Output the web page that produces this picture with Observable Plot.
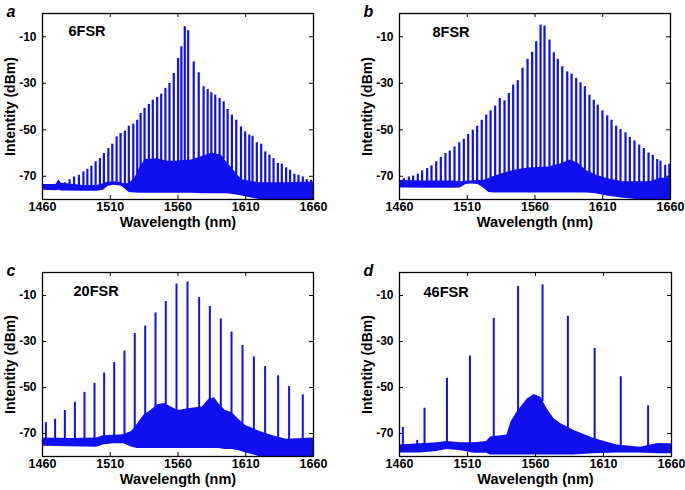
<!DOCTYPE html>
<html><head><meta charset="utf-8">
<script src="https://cdn.jsdelivr.net/npm/d3@7"></script>
<script src="https://cdn.jsdelivr.net/npm/@observablehq/plot@0.6"></script>
<style>
body{margin:0;background:#fff;}
#wrap{position:relative;width:685px;height:490px;overflow:hidden;background:#fff;}
.panel{position:absolute;}
</style></head><body><div id="wrap"></div>
<script>
const xTicks = [1460, 1510, 1560, 1610, 1660];
const yTicks = [-10, -30, -50, -70];
const xLabel = "Wavelength (nm)";
const yLabel = "Intentity (dBm)";

// ---- panel a (6FSR)
const aLineW = [1476.6,1480.0,1483.3,1486.9,1490.2,1493.1,1496.1,1499.2,1502.4,1505.3,1508.6,1511.5,1514.7,1517.6,1520.8,1523.7,1527.0,1529.9,1532.4,1535.3,1538.5,1541.4,1544.6,1547.6,1550.7,1553.7,1556.9,1560.1,1562.5,1565.0,1567.5,1571.6,1575.3,1578.9,1581.9,1584.6,1587.5,1590.7,1593.7,1596.6,1599.8,1603.0,1606.5,1609.6,1612.6,1615.0,1618.2,1621.4,1624.4,1627.5,1630.5,1633.7,1636.6,1639.8,1642.7,1645.9,1648.9,1652.1,1655.0,1658.2];
const aLineP = [-72.8,-71.5,-70.3,-69.6,-68.1,-67,-65.7,-63.8,-62.4,-60.2,-58.1,-56.2,-53.1,-51.6,-50.6,-48.5,-47.6,-45.9,-43,-40.8,-39.1,-37.3,-36.1,-34.7,-32.2,-30.1,-25.8,-19.3,-14.3,-5.7,-7.4,-20.8,-25.5,-31.5,-32.7,-34.1,-35.1,-36.5,-38,-41.3,-43.7,-45.9,-48.8,-50.9,-52.3,-52.8,-55.6,-56.2,-59.5,-60.9,-62.4,-64.5,-64.8,-66.4,-67.4,-69.1,-69.6,-70.3,-71.4,-71.7];
const aFloorW  = [1460,1470,1472,1474,1490,1500,1505,1508,1512,1518,1521,1524,1528,1532,1536,1545,1552,1558,1570,1578,1585,1592,1596,1602,1607,1620,1640,1660];
const aFloorHi = [-73.5,-73.5,-71.5,-73,-74,-74,-73.2,-72.6,-72.4,-72.7,-73.4,-73,-71,-66,-62.8,-62.5,-63.5,-63.5,-63,-61.5,-60,-61,-64,-68,-71.5,-72.8,-72.8,-72.5];
const aFloorLo = [-76,-76.2,-76,-76.3,-76.5,-76.5,-76,-74.5,-73.9,-74.2,-75.5,-77,-77.2,-77.3,-77.3,-77.3,-77.3,-77.3,-77.3,-77.5,-77.5,-77.5,-77.5,-78,-78.5,-80,-80,-80];

// ---- panel b (8FSR)
const bLineW = [1463.2,1466.9,1470.1,1473.5,1476.7,1480.4,1483.6,1487.1,1490.5,1493.9,1497.1,1500.6,1504.1,1507.5,1510.7,1514.1,1517.3,1520.7,1524.0,1527.2,1530.6,1534.0,1537.5,1540.7,1543.9,1547.3,1550.8,1554.5,1557.9,1560.9,1564.1,1567.0,1570.7,1573.9,1576.8,1580.1,1583.8,1587.0,1590.4,1593.6,1596.8,1600.2,1603.4,1606.3,1609.8,1613.3,1616.5,1619.9,1623.1,1626.8,1630.0,1633.4,1636.9,1640.3,1643.8,1646.9,1650.2,1652.6,1656.1,1659.1];
const bLineP = [-71.0,-70.3,-69.9,-69.1,-67.7,-66.7,-65.5,-63.8,-61.9,-60.2,-59.2,-57.4,-55.6,-54.1,-52,-50.2,-48.5,-45.9,-43.7,-41.9,-39.8,-36.5,-37.6,-34.4,-30.8,-28.9,-23.5,-19.7,-16.7,-12.1,-5.0,-5.4,-11.4,-16.9,-19.7,-22.9,-25.1,-26.1,-27.9,-29.8,-31.5,-35.1,-37.3,-39.4,-41.9,-44,-45.9,-48.5,-49.9,-51.3,-53.3,-54.8,-56.6,-58.1,-60,-61,-62.8,-63.5,-65.3,-64.8];
const bFloorW  = [1460,1480,1500,1505,1509,1513,1518,1522,1526,1530,1544,1555,1570,1580,1586,1592,1598,1605,1613,1625,1635,1645,1652,1660];
const bFloorHi = [-71.8,-72,-72,-72.5,-72.2,-72,-71.8,-71.8,-71,-70,-67.5,-66.5,-66,-64.5,-63,-64.5,-67.5,-69.5,-71,-72.4,-72.4,-72.4,-71,-70.5];
const bFloorLo = [-75,-75.2,-75.2,-75,-73.6,-73.3,-73.5,-75,-77,-77.2,-77.2,-77.2,-77.2,-77.2,-77.2,-77.2,-77.2,-77.5,-78.5,-79.5,-80,-80,-80,-80];

// ---- panel c (20FSR)
const cLineW = [1462.5,1469.3,1476.5,1483.9,1491.0,1498.4,1505.5,1512.9,1520.5,1528.1,1535.8,1543.4,1551.0,1558.9,1567.0,1575.6,1583.5,1591.6,1599.5,1607.6,1616.0,1624.3,1633.9,1642.0,1652.1];
const cLineP = [-65.3,-63.8,-60,-56.4,-52.1,-48.2,-43.7,-39.1,-34.1,-26.5,-23.3,-17.6,-12.6,-5.0,-4.1,-10.9,-14.7,-20.2,-25.9,-31.7,-36.7,-40.9,-44.9,-49.5,-53.2];
const cFloorW  = [1460,1480,1500,1505,1512,1520,1526,1530,1535,1540,1545,1550,1555,1560,1570,1578,1583,1587,1590,1595,1600,1605,1610,1620,1630,1640,1660];
const cFloorHi = [-72,-72.2,-72,-71,-70.8,-70.5,-69,-66,-62,-60,-57.5,-57,-58.5,-60,-59,-58.5,-55,-54.5,-57,-60,-61,-64,-66.5,-69,-71,-72.5,-72];
const cFloorLo = [-75.5,-75.8,-76,-75,-74.5,-74.5,-76,-76.5,-76.5,-76.5,-76.5,-76.5,-76.5,-76.5,-76.5,-76.5,-76.5,-76.5,-76.5,-77,-77,-77.5,-78.5,-80,-80,-80,-80];

// ---- panel d (46FSR)
const dLineW = [1462.5,1473.0,1478.4,1494.9,1511.8,1529.3,1547.2,1565.2,1583.8,1603.5,1622.7,1642.8];
const dLineP = [-67.4,-73,-59,-46,-36.3,-20,-6.1,-5.4,-19,-33,-45.3,-58];
const dFloorW  = [1460,1475,1487.5,1495,1505,1515,1524,1527,1539,1542,1546.5,1550,1554,1559,1564,1568.5,1573.5,1578.5,1588,1603,1620,1637,1650,1660];
const dFloorHi = [-75,-74.5,-74,-73.5,-74,-74,-73.5,-71.5,-70.7,-65,-60.7,-58,-55,-53,-54.2,-59.2,-63.5,-65.7,-68.6,-72.2,-75,-76,-74.3,-74.5];
const dFloorLo = [-78.5,-78.5,-77.8,-77,-77.5,-78.6,-78.6,-79.3,-79.3,-79.3,-79.3,-79.3,-79.3,-79.3,-79.3,-79.3,-79.3,-79.3,-79.3,-78.8,-78.5,-78.5,-78.8,-78.8];

const BLUE = "#1010ee";
const FONT = "'Liberation Sans', Arial, Helvetica, sans-serif";

function panel(o) {
  const lines = o.lineW.map((w, i) => ({w, p: o.lineP[i]}));
  const floor = o.floorW.map((w, i) => ({w, hi: o.floorHi[i], lo: o.floorLo[i]}));
  const top = d3.scaleLinear(o.floorW, o.floorHi);
  lines.forEach(d => { d.base = top(d.w) - 0.5; });
  const iw = o.W - o.mL - o.mR, ih = o.H - o.mT - o.mB;
  return Plot.plot({
    width: o.W, height: o.H,
    marginLeft: o.mL, marginRight: o.mR, marginTop: o.mT, marginBottom: o.mB,
    x: {domain: [1460, 1660]},
    y: {domain: [-80, 0]},
    style: {fontFamily: FONT, fontWeight: "bold", fontSize: "12px", color: "black", background: "transparent", overflow: "visible"},
    marks: [
      Plot.areaY(floor, {x: "w", y1: "lo", y2: "hi", fill: BLUE}),
      Plot.ruleX(lines, {x: "w", y1: "base", y2: "p", stroke: BLUE, strokeWidth: o.lw}),
      Plot.frame({stroke: "black", strokeWidth: 1.3}),
      Plot.tickX(xTicks, {x: d => d, insetTop: ih - 4, stroke: "black"}),
      Plot.tickX(xTicks, {x: d => d, insetBottom: ih - 4, stroke: "black"}),
      Plot.tickY(yTicks, {y: d => d, insetRight: iw - 4, stroke: "black"}),
      Plot.tickY(yTicks, {y: d => d, insetLeft: iw - 4, stroke: "black"}),
      Plot.axisX(xTicks, {tickSize: 0, tickPadding: 3, tickFormat: d => String(d), label: null, fontSize: 12.5}),
      Plot.axisY(yTicks, {tickSize: 0, tickPadding: 6, tickFormat: d => String(d), label: null, fontSize: 12}),
      Plot.text([xLabel], {frameAnchor: "bottom", dy: 23, text: d => d, fontSize: 14.5, textAnchor: "middle", lineAnchor: "middle"}),
      Plot.text([yLabel], {frameAnchor: "left", dx: -32, rotate: -90, text: d => d, fontSize: 14, textAnchor: "middle", lineAnchor: "middle"}),
      Plot.text([o.letter], {frameAnchor: "top-left", dx: -36, dy: -8, text: d => d, textAnchor: "start", lineAnchor: "top", fontSize: 16, fontStyle: "italic"}),
      Plot.text([o.tag], {frameAnchor: "top-left", dx: o.tagDx, dy: o.tagDy, text: d => d, textAnchor: "start", lineAnchor: "top", fontSize: 14.5})
    ]
  });
}

const panels = [
  {left: 0, top: 0, W: 342, H: 245, mL: 42, mR: 29, mT: 13, mB: 46, lineW: aLineW, lineP: aLineP, floorW: aFloorW, floorHi: aFloorHi, floorLo: aFloorLo, letter: "a", tag: "6FSR", tagDx: 26, tagDy: 12, lw: 2.2},
  {left: 342, top: 0, W: 343, H: 245, mL: 57, mR: 15, mT: 13, mB: 46, lineW: bLineW, lineP: bLineP, floorW: bFloorW, floorHi: bFloorHi, floorLo: bFloorLo, letter: "b", tag: "8FSR", tagDx: 33, tagDy: 13.5, lw: 2.2},
  {left: 0, top: 245, W: 342, H: 245, mL: 42, mR: 29, mT: 27, mB: 34, lineW: cLineW, lineP: cLineP, floorW: cFloorW, floorHi: cFloorHi, floorLo: cFloorLo, letter: "c", tag: "20FSR", tagDx: 31, tagDy: 13.5, lw: 2},
  {left: 342, top: 245, W: 343, H: 245, mL: 57, mR: 14, mT: 27, mB: 34, lineW: dLineW, lineP: dLineP, floorW: dFloorW, floorHi: dFloorHi, floorLo: dFloorLo, letter: "d", tag: "46FSR", tagDx: 24, tagDy: 14.5, lw: 2}
];

const wrap = document.getElementById("wrap");
for (const p of panels) {
  const div = document.createElement("div");
  div.className = "panel";
  div.style.left = p.left + "px";
  div.style.top = p.top + "px";
  div.appendChild(panel(p));
  wrap.appendChild(div);
}
</script>
</body></html>
